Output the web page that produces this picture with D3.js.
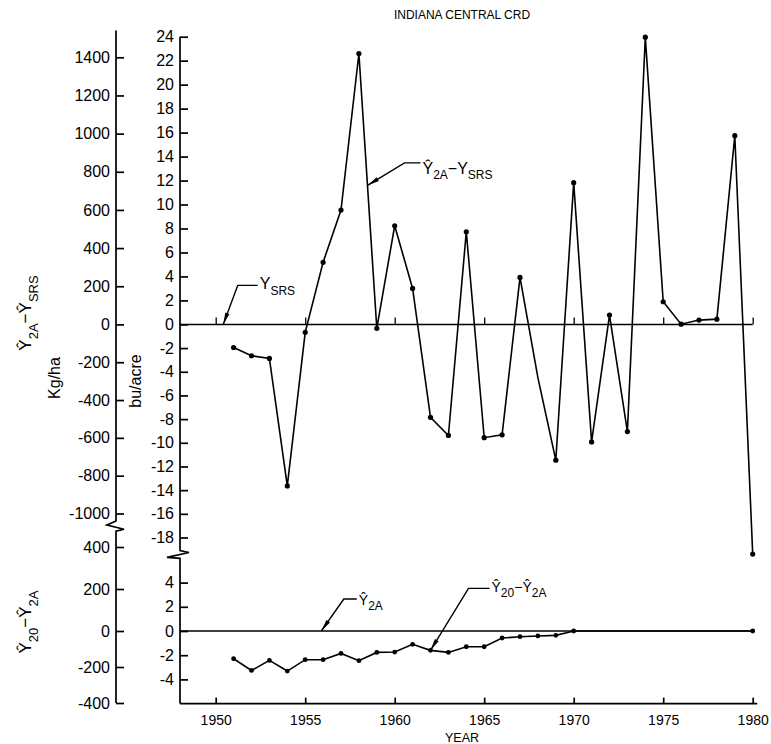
<!DOCTYPE html>
<html>
<head>
<meta charset="utf-8">
<script src="https://cdn.jsdelivr.net/npm/d3@7"></script>
<style>
  body { margin: 0; background: #fff; }
  svg { display: block; font-family: "Liberation Sans", Arial, sans-serif; }
  .line { fill: none; stroke: #000; stroke-width: 1.6; }
  .dot { fill: #000; }
  .axis path, .axis line, .rule { stroke: #000; stroke-width: 1.7; fill: none; }
  .axis text { font-size: 16px; fill: #000; }
  .label { fill: #000; }
</style>
</head>
<body>
<div id="chart"></div>
<script>
// Ŷ2A − YSRS, bu/acre, one value per year
var years = [1951, 1952, 1953, 1954, 1955, 1956, 1957, 1958, 1959, 1960,
             1961, 1962, 1963, 1964, 1965, 1966, 1967, 1968, 1969, 1970,
             1971, 1972, 1973, 1974, 1975, 1976, 1977, 1978, 1979, 1980];
var diffSRS = [-1.95, -2.65, -2.87, -13.64, -0.67, 5.18, 9.54, 22.6, -0.33, 8.23,
               3.0, -7.85, -9.38, 7.73, -9.57, -9.33, 3.92, -4.5, -11.47, 11.82,
               -9.93, 0.78, -9.05, 23.96, 1.89, 0.02, 0.36, 0.44, 15.74, -19.4];
// the 1968 value is only a bend in the line, no marker drawn
var noMarker = [1968];

// Ŷ20 − Ŷ2A, bu/acre
var years20 = [1951, 1952, 1953, 1954, 1955, 1956, 1957, 1958, 1959, 1960,
               1961, 1962, 1963, 1964, 1965, 1966, 1967, 1968, 1969, 1970, 1980];
var diff20 = [-2.29, -3.26, -2.43, -3.31, -2.37, -2.37, -1.85, -2.45, -1.77, -1.74,
              -1.1, -1.6, -1.77, -1.3, -1.3, -0.58, -0.47, -0.41, -0.36, 0, 0];

// tick labels
var xTicks = [1950, 1955, 1960, 1965, 1970, 1975, 1980];
var kgTopTicks = [1400, 1200, 1000, 800, 600, 400, 200, 0, -200, -400, -600, -800, -1000];
var buTopTicks = [24, 22, 20, 18, 16, 14, 12, 10, 8, 6, 4, 2, 0, -2, -4, -6, -8, -10, -12, -14, -16, -18];
var kgLowTicks = [400, 200, 0, -200, -400];
var buLowTicks = [4, 2, 0, -2, -4];

var W = 771, H = 744;
var kgX = 116, buX = 180;

var svg = d3.select("#chart").append("svg")
    .attr("width", W)
    .attr("height", H);

// Scales (the hand drawn axes are not quite even, so piecewise)
var x = d3.scaleLinear().domain([1950, 1980]).range([215.7, 752.7]);
var buTop = d3.scaleLinear().domain([-18, 0, 24]).range([537.5, 324.4, 36.7]);
var kgTop = d3.scaleLinear().domain([-1000, 0, 1400]).range([513.5, 324.4, 57.3]);
var buLow = d3.scaleLinear().domain([0, 4]).range([631, 582.6]);
var kgLow = d3.scaleLinear().domain([-400, 0, 400]).range([703, 631, 547]);

function fmt(d) { return String(d); }

function leftAxis(scale, ticks, xpos) {
    var g = svg.append("g")
        .attr("class", "axis")
        .attr("transform", "translate(" + xpos + ",0)")
        .call(d3.axisLeft(scale).tickValues(ticks).tickSizeInner(-8).tickSizeOuter(0)
              .tickPadding(6).tickFormat(fmt));
    g.select(".domain").remove();
    g.attr("font-size", null).attr("font-family", null);
    return g;
}

leftAxis(kgTop, kgTopTicks, kgX);
leftAxis(buTop, buTopTicks, buX);
leftAxis(kgLow, kgLowTicks, kgX);
leftAxis(buLow, buLowTicks, buX);

// axis spines with breaks
var spine = d3.line();
svg.append("path").attr("class", "rule")
    .attr("d", spine([[kgX, kgTop(1540)], [kgX, kgTop(-1040)], [kgX - 9, kgTop(-1040) + 4],
                      [kgX + 8, kgLow(475) - 2], [kgX, kgLow(475)], [kgX, kgLow(-400)]]));
svg.append("path").attr("class", "rule")
    .attr("d", spine([[buX, buTop(24)], [buX, buTop(-19.1)], [buX + 9, buTop(-19.1) + 2],
                      [buX - 13, buLow(6) - 1], [buX, buLow(6)], [buX, buLow(-6)]]));

// x axis at the bottom
var xg = svg.append("g")
    .attr("class", "axis")
    .attr("transform", "translate(0," + buLow(-6) + ")")
    .call(d3.axisBottom(x).tickValues(xTicks).tickSizeInner(-6).tickSizeOuter(0)
          .tickPadding(11).tickFormat(fmt));
xg.select(".domain").remove();
xg.attr("font-size", null).attr("font-family", null);
xg.selectAll("text").style("font-size", "14px");
svg.append("line").attr("class", "rule")
    .attr("x1", buX).attr("x2", x(1980.25))
    .attr("y1", buLow(-6)).attr("y2", buLow(-6));

// zero lines with small upward ticks
[[buTop, true], [buLow, false]].forEach(function(p) {
    var g = svg.append("g")
        .attr("class", "axis")
        .attr("transform", "translate(0," + p[0](0) + ")")
        .call(d3.axisBottom(x).tickValues(p[1] ? xTicks : []).tickSizeInner(-7).tickSizeOuter(0)
              .tickFormat(""));
    g.select(".domain").remove();
    g.selectAll("line").style("stroke-width", 1.3);
    svg.append("line").attr("class", "rule")
        .style("stroke-width", 1.5)
        .attr("x1", buX).attr("x2", x(1980))
        .attr("y1", p[0](0)).attr("y2", p[0](0));
});

// series
var topData = years.map(function(y, i) { return [y, diffSRS[i]]; });
var lowData = years20.map(function(y, i) { return [y, diff20[i]]; });

var lineTop = d3.line().x(function(d) { return x(d[0]); }).y(function(d) { return buTop(d[1]); });
var lineLow = d3.line().x(function(d) { return x(d[0]); }).y(function(d) { return buLow(d[1]); });

svg.append("path").datum(topData).attr("class", "line").attr("d", lineTop);
svg.append("path").datum(lowData).attr("class", "line").attr("d", lineLow);

svg.selectAll("circle.top")
    .data(topData.filter(function(d) { return noMarker.indexOf(d[0]) < 0; }))
  .enter().append("circle")
    .attr("class", "dot top").attr("r", 2.6)
    .attr("cx", function(d) { return x(d[0]); })
    .attr("cy", function(d) { return buTop(d[1]); });
svg.selectAll("circle.low").data(lowData).enter().append("circle")
    .attr("class", "dot low").attr("r", 2.4)
    .attr("cx", function(d) { return x(d[0]); })
    .attr("cy", function(d) { return buLow(d[1]); });

// text with subscripts: parts = [[text, isSub], ...]
function richText(sel, parts, size, subSize, shift) {
    var down = false;
    parts.forEach(function(p) {
        var t = sel.append("tspan").text(p[0]);
        if (p[1]) {
            t.style("font-size", subSize + "px");
            if (!down) { t.attr("dy", shift); down = true; }
        } else {
            t.style("font-size", size + "px");
            if (down) { t.attr("dy", -shift); down = false; }
        }
    });
    return sel;
}

// leader lines with arrowheads
function leader(tx, ty, dx, dy, len, parts, size, subSize, shift, baseOff) {
    var ex = tx + dx, ey = ty + dy;
    svg.append("path").attr("class", "rule").style("stroke-width", 1.4)
        .attr("d", spine([[tx, ty], [ex, ey], [ex + len, ey]]));
    var a = Math.atan2(dy, dx), L = 12, w = 2.2;
    var ux = Math.cos(a), uy = Math.sin(a);
    svg.append("path").attr("fill", "#000")
        .attr("d", spine([[tx, ty],
                          [tx + ux * L - uy * w, ty + uy * L + ux * w],
                          [tx + ux * L + uy * w, ty + uy * L - ux * w]]) + "Z");
    var t = svg.append("text").attr("class", "label")
        .attr("x", ex + len + 2).attr("y", ey + baseOff);
    richText(t, parts, size, subSize, shift);
}

var tipYear = 1958.48;
var tipVal = d3.interpolateNumber(diffSRS[7], diffSRS[8])(tipYear - 1958);
leader(x(tipYear), buTop(tipVal), 37, -22.5, 16,
       [["Ŷ", false], ["2A", true], ["−Y", false], ["SRS", true]], 16, 12, 5, 11);
leader(x(1950.42), buTop(0), 14.5, -39, 20,
       [["Y", false], ["SRS", true]], 16, 12, 6, 4);
leader(x(1955.9), buLow(0), 22.5, -32, 13,
       [["Ŷ", false], ["2A", true]], 14, 12, 5, 6);
leader(x(1962), buLow(diff20[11]), 38, -62, 21,
       [["Ŷ", false], ["20", true], ["−", false], ["Ŷ", false], ["2A", true]], 14, 12, 5, 4);

// axis titles
function vText(px, py, parts, size, subSize, shift) {
    var t = svg.append("text").attr("class", "label")
        .attr("text-anchor", "middle")
        .attr("transform", "translate(" + px + "," + py + ") rotate(-90)");
    richText(t, parts, size, subSize, shift);
}
vText(31, 313, [["Ŷ", false], ["2A", true], ["−Ŷ", false], ["SRS", true]], 17, 13, 7);
vText(31, 622, [["Ŷ", false], ["20", true], ["−Ŷ", false], ["2A", true]], 17, 13, 7);
vText(60, 378, [["Kg/ha", false]], 16, 12, 0);
vText(141, 381, [["bu/acre", false]], 16, 12, 0);

svg.append("text").attr("class", "label")
    .attr("x", 462).attr("y", 19)
    .attr("text-anchor", "middle")
    .style("font-size", "12px")
    .text("INDIANA CENTRAL CRD");

svg.append("text").attr("class", "label")
    .attr("x", 462).attr("y", 742)
    .attr("text-anchor", "middle")
    .style("font-size", "12.5px")
    .text("YEAR");
</script>
</body>
</html>
